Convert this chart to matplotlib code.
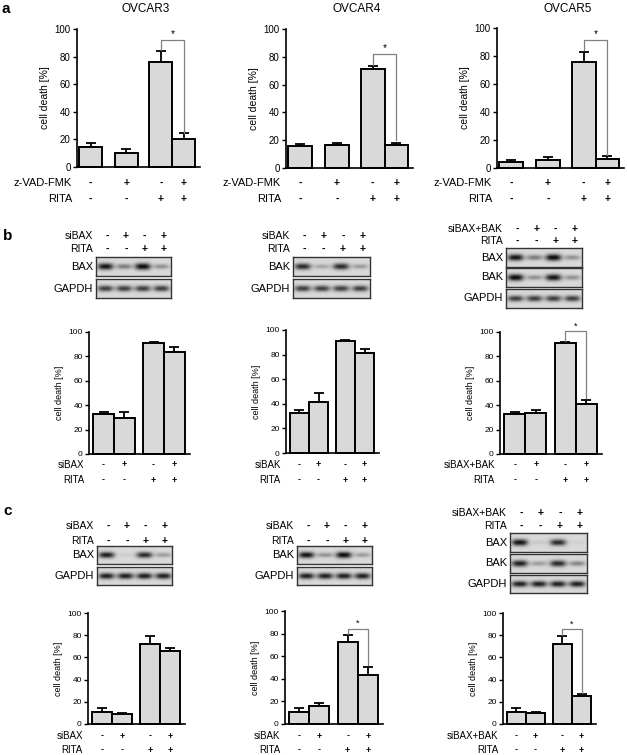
import numpy as np
import matplotlib
matplotlib.use("Agg")
import matplotlib.pyplot as plt
import matplotlib.transforms as mtransforms

plt.rcParams['font.family'] = ['Liberation Sans', 'DejaVu Sans']

# ---------------- data ----------------
treat_zvad = ["-", "+", "-", "+"]
treat_si = ["-", "+", "-", "+"]
treat_rita = ["-", "-", "+", "+"]

ovcar3_mean = [14.7, 10.4, 75.9, 20.5]
ovcar3_err = [2.4, 2.9, 8.1, 3.8]
ovcar4_mean = [15.6, 16.3, 71.2, 16.3]
ovcar4_err = [1.4, 1.7, 2.4, 1.7]
ovcar5_mean = [4.3, 5.5, 75.7, 6.4]
ovcar5_err = [1.4, 2.4, 7.2, 1.9]

b_bax_mean = [32.4, 29.7, 90.9, 84.0]
b_bax_err = [2.2, 4.9, 0.9, 3.6]
b_bak_mean = [32.4, 41.4, 90.8, 81.4]
b_bak_err = [2.2, 7.5, 0.8, 3.5]
b_baxbak_mean = [32.4, 33.8, 90.9, 40.9]
b_baxbak_err = [2.2, 2.2, 0.9, 3.3]

c_bax_mean = [10.8, 9.3, 72.4, 65.5]
c_bax_err = [3.6, 0.9, 6.6, 3.0]
c_bak_mean = [10.6, 16.2, 72.4, 43.5]
c_bak_err = [3.8, 2.3, 6.4, 7.1]
c_baxbak_mean = [10.8, 9.9, 72.4, 24.9]
c_baxbak_err = [3.6, 0.6, 6.6, 1.8]

# significance brackets: (top, left leg end, right leg end)
sig_ovcar3 = (92, 85, 25)
sig_ovcar4 = (82, 74, 20)
sig_ovcar5 = (91.5, 84, 9)
sig_b_baxbak = (100.5, 93, 46)
sig_c_bak = (84.4, 80, 52)
sig_c_baxbak = (85.6, 80, 28)

# western blot band intensities (lanes 1-4)
b_blot_bax = [0.95, 0.45, 1.0, 0.35]
b_blot_bak = [0.85, 0.25, 0.85, 0.3]
b_blot_gapdh = [0.75, 0.75, 0.75, 0.75]
b3_blot_bax = [0.95, 0.45, 1.0, 0.35]
b3_blot_bak = [1.0, 0.35, 0.95, 0.35]
c_blot_bax = [0.9, 0.05, 0.85, 0.3]
c_blot_bak = [0.95, 0.35, 1.0, 0.3]
c_blot_gapdh = [0.9, 0.9, 0.9, 0.9]
c3_blot_bax = [0.95, 0.08, 0.85, 0.05]
c3_blot_bak = [0.9, 0.3, 0.85, 0.4]

# ---------------- layout ----------------
W, H = 627, 755
fig = plt.figure(figsize=(W / 100, H / 100), dpi=100)


def fx(x):
    return x / W


def fy(y):
    return 1 - y / H


def bar_panel(x0, x1, ytop, ybot, means, errs, pos, xlim, rows, rowlabels,
              row_y, sig=None, title=None, fs=7):
    ax = fig.add_axes([fx(x0), fy(ybot), (x1 - x0) / W, (ybot - ytop) / H])
    ax.bar(pos, means, width=1.0, color="#d9d9d9", edgecolor="black",
           linewidth=1.4, clip_on=False, zorder=2)
    ax.errorbar(pos, means, yerr=[np.zeros(len(errs)), errs], fmt="none",
                ecolor="black", elinewidth=1.3, capsize=fs * 0.55,
                capthick=1.3, clip_on=False, zorder=1)
    ax.set_xlim(*xlim)
    ax.set_ylim(0, 100)
    ax.set_yticks(range(0, 101, 20))
    ax.set_xticks([])
    for s in ["top", "right"]:
        ax.spines[s].set_visible(False)
    for s in ["left", "bottom"]:
        ax.spines[s].set_linewidth(1.2)
    ax.tick_params(axis="y", direction="out", length=3, width=1,
                   labelsize=fs, pad=1.5)
    ax.set_ylabel("cell death [%]", fontsize=fs + 0.5, labelpad=3)
    ax.patch.set_visible(False)
    trans = mtransforms.blended_transform_factory(ax.transData, fig.transFigure)
    if title:
        ax.text(0.5 * (xlim[0] + xlim[1]) + 0.3, fy(9), title, fontsize=8.5,
                ha="center", va="center", transform=trans)
    for signs, lab, yy in zip(rows, rowlabels, row_y):
        for p, s in zip(pos, signs):
            ax.text(p, fy(yy), s, ha="center", va="center", fontsize=fs + 0.5,
                    fontweight="bold", transform=trans)
        fig.text(fx(x0 - 5), fy(yy), lab, ha="right", va="center",
                 fontsize=fs + 1)
    if sig:
        top, lo_l, lo_r = sig
        ax.plot([pos[2], pos[2], pos[3], pos[3]], [lo_l, top, top, lo_r],
                color="#808080", lw=0.9, clip_on=False, zorder=3)
        ax.text(0.5 * (pos[2] + pos[3]), top + 0.5, "*", ha="center",
                va="bottom", fontsize=fs + 0.5, clip_on=False)
    return ax


def blot_row(x0, x1, y0, y1, intens, label):
    ax = fig.add_axes([fx(x0), fy(y1), (x1 - x0) / W, (y1 - y0) / H])
    nx, ny = 200, 40
    xx = np.linspace(0, 1, nx)
    yy = np.linspace(-1, 1, ny)
    img = np.full((ny, nx), 0.85)
    for i, v in enumerate(intens):
        cx = (i + 0.5) / 4
        px = np.exp(-(np.abs(xx - cx) / 0.105) ** 3)
        py = np.exp(-(yy / (0.22 + 0.14 * v)) ** 2)
        img -= 0.82 * v * np.outer(py, px)
    img = np.clip(img, 0.05, 1)
    ax.imshow(img, cmap="gray", vmin=0, vmax=1, aspect="auto",
              extent=[0, 1, 0, 1], interpolation="bilinear")
    ax.set_xticks([])
    ax.set_yticks([])
    for s in ax.spines.values():
        s.set_linewidth(1.0)
        s.set_color("#333333")
    fig.text(fx(x0 - 3), fy((y0 + y1) / 2), label, ha="right", va="center",
             fontsize=8)
    return ax


def blot_header(x0, x1, rows, labels, ys):
    for signs, lab, yy in zip(rows, labels, ys):
        for i, s in enumerate(signs):
            fig.text(fx(x0 + (x1 - x0) * (i + 0.6) / 4), fy(yy), s,
                     ha="center", va="center", fontsize=7.5, fontweight="bold")
        fig.text(fx(x0 - 3), fy(yy), lab, ha="right", va="center", fontsize=7.5)


pos_a = [0, 1.55, 3.05, 4.05]
xlim_a = (-0.6, 4.75)
pos_bc = [0, 1, 2.4, 3.4]
xlim_bc = (-0.7, 4.15)

# ---------------- panel a ----------------
rows_a = [treat_zvad, treat_rita]
labs_a = ["z-VAD-FMK", "RITA"]
bar_panel(77, 200, 29, 167, ovcar3_mean, ovcar3_err, pos_a, xlim_a, rows_a,
          labs_a, [183, 199], sig_ovcar3, "OVCAR3")
bar_panel(286, 413, 29, 168, ovcar4_mean, ovcar4_err, pos_a, xlim_a, rows_a,
          labs_a, [183, 199], sig_ovcar4, "OVCAR4")
bar_panel(497, 624, 28, 168, ovcar5_mean, ovcar5_err, pos_a, xlim_a, rows_a,
          labs_a, [183, 199], sig_ovcar5, "OVCAR5")

# ---------------- panel b ----------------
blot_header(96, 171, [treat_si, treat_rita], ["siBAX", "RITA"], [236, 249])
blot_row(96, 171, 257, 276, b_blot_bax, "BAX")
blot_row(96, 171, 279, 298, b_blot_gapdh, "GAPDH")
blot_header(293, 370, [treat_si, treat_rita], ["siBAK", "RITA"], [236, 249])
blot_row(293, 370, 257, 276, b_blot_bak, "BAK")
blot_row(293, 370, 279, 298, b_blot_gapdh, "GAPDH")
blot_header(506, 582, [treat_si, treat_rita], ["siBAX+BAK", "RITA"], [229, 241])
blot_row(506, 582, 248, 267, b3_blot_bax, "BAX")
blot_row(506, 582, 268, 287, b3_blot_bak, "BAK")
blot_row(506, 582, 289, 308, b_blot_gapdh, "GAPDH")

bar_panel(89, 190, 332, 454, b_bax_mean, b_bax_err, pos_bc, xlim_bc,
          [treat_si, treat_rita], ["siBAX", "RITA"], [465, 480], fs=6)
bar_panel(286, 379, 330, 453, b_bak_mean, b_bak_err, pos_bc, xlim_bc,
          [treat_si, treat_rita], ["siBAK", "RITA"], [465, 480], fs=6)
bar_panel(500, 602, 332, 454, b_baxbak_mean, b_baxbak_err, pos_bc, xlim_bc,
          [treat_si, treat_rita], ["siBAX+BAK", "RITA"], [465, 480],
          sig_b_baxbak, fs=6)

# ---------------- panel c ----------------
blot_header(97, 172, [treat_si, treat_rita], ["siBAX", "RITA"], [526, 541])
blot_row(97, 172, 546, 564, c_blot_bax, "BAX")
blot_row(97, 172, 567, 585, c_blot_gapdh, "GAPDH")
blot_header(297, 372, [treat_si, treat_rita], ["siBAK", "RITA"], [526, 541])
blot_row(297, 372, 546, 564, c_blot_bak, "BAK")
blot_row(297, 372, 567, 585, c_blot_gapdh, "GAPDH")
blot_header(510, 587, [treat_si, treat_rita], ["siBAX+BAK", "RITA"], [513, 526])
blot_row(510, 587, 533, 552, c3_blot_bax, "BAX")
blot_row(510, 587, 554, 573, c3_blot_bak, "BAK")
blot_row(510, 587, 575, 593, c_blot_gapdh, "GAPDH")

bar_panel(88, 185, 613, 724, c_bax_mean, c_bax_err, pos_bc, xlim_bc,
          [treat_si, treat_rita], ["siBAX", "RITA"], [736, 750], fs=6)
bar_panel(285, 383, 611, 724, c_bak_mean, c_bak_err, pos_bc, xlim_bc,
          [treat_si, treat_rita], ["siBAK", "RITA"], [736, 750],
          sig_c_bak, fs=6)
bar_panel(503, 596, 613, 724, c_baxbak_mean, c_baxbak_err, pos_bc, xlim_bc,
          [treat_si, treat_rita], ["siBAX+BAK", "RITA"], [736, 750],
          sig_c_baxbak, fs=6)

# panel letters
fig.text(fx(2), fy(9), "a", fontsize=11, fontweight="bold", va="center")
fig.text(fx(3), fy(236), "b", fontsize=11, fontweight="bold", va="center")
fig.text(fx(3), fy(511), "c", fontsize=11, fontweight="bold", va="center")

fig.savefig("out.png", dpi=100)
